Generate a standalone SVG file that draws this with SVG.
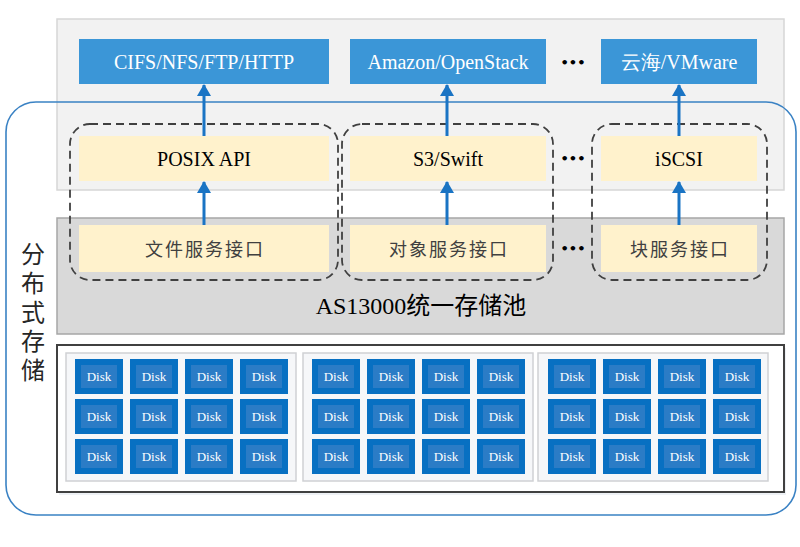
<svg xmlns="http://www.w3.org/2000/svg" width="800" height="547" viewBox="0 0 800 547">
<defs>
<style>
.panel{fill:#f2f2f2;stroke:#d6d6d6;stroke-width:1.5}
.band{fill:#d9d9d9;stroke:#a6a6a6;stroke-width:1.5}
.proto{fill:#3b96d7}
.api{fill:#fff2cc}
.dash{fill:none;stroke:#404040;stroke-width:1.8;stroke-dasharray:8,5}
.outer{fill:none;stroke:#3a82c4;stroke-width:1.6}
.wt{font-family:"Liberation Serif",serif;font-size:20px;fill:#ffffff;text-anchor:middle}
.bt{font-family:"Liberation Serif",serif;font-size:20px;fill:#000000;text-anchor:middle}
.ct{font-family:"Noto Sans CJK SC",sans-serif;font-size:18px;fill:#404040;text-anchor:middle;letter-spacing:2px}
.dots{font-family:"DejaVu Sans",sans-serif;font-size:13px;fill:#000;text-anchor:middle;font-weight:bold}
.arrow{stroke:#1a74c4;stroke-width:3;fill:none}
.disk{fill:#0870c2}
.diskin{fill:#2b7cc6}
.dt{font-family:"Liberation Serif",serif;font-size:13px;fill:#ffffff;text-anchor:middle}
.grp{fill:#f6f7f9;stroke:#cfd1d4;stroke-width:1.5}
.vt{font-family:"Noto Sans CJK SC",sans-serif;font-size:24px;fill:#262626;writing-mode:vertical-rl;letter-spacing:5px}
</style>
<marker id="ah" markerWidth="14" markerHeight="14" viewBox="0 0 12 14" refX="11" refY="7" orient="auto" markerUnits="userSpaceOnUse">
<path d="M0,0 L12,7 L0,14 z" fill="#1a74c4"/>
</marker>
<g id="disk">
<rect class="disk" x="0" y="0" width="48" height="35"/>
<rect class="diskin" x="6" y="6" width="36" height="23"/>
<text class="dt" x="24" y="22">Disk</text>
</g>
<g id="row4">
<use href="#disk" x="0" y="0"/>
<use href="#disk" x="55" y="0"/>
<use href="#disk" x="110" y="0"/>
<use href="#disk" x="165" y="0"/>
</g>
<g id="grid">
<use href="#row4" x="0" y="0"/>
<use href="#row4" x="0" y="40"/>
<use href="#row4" x="0" y="80"/>
</g>
</defs>
<rect width="800" height="547" fill="#ffffff"/>

<g id="access-panel"><rect class="panel" x="57" y="19" width="727" height="171"/></g>
<g id="pool-band"><rect class="band" x="57" y="218" width="727" height="116"/>
<text x="421" y="314" font-family="'Liberation Serif','Noto Sans CJK SC',serif" font-size="24" fill="#000" text-anchor="middle">AS13000统一存储池</text></g>

<g id="distributed-storage">
<rect class="outer" x="6" y="102" width="790" height="413" rx="30"/>
<text class="vt" x="33" y="242">分布式存储</text>
</g>

<g id="proto-cifs"><rect class="proto" x="79" y="39" width="250" height="45"/><text class="wt" x="204" y="69">CIFS/NFS/FTP/HTTP</text></g>
<g id="proto-amazon"><rect class="proto" x="350" y="39" width="196" height="45"/><text class="wt" x="448" y="69">Amazon/OpenStack</text></g>
<g id="proto-cloud"><rect class="proto" x="601" y="39" width="156" height="45"/><text class="wt" x="679" y="69" font-family="'Liberation Serif','Noto Sans CJK SC',serif">云海/VMware</text></g>
<text class="dots" x="573" y="67">•••</text>

<g id="file-group"><rect class="dash" x="70" y="124" width="268" height="156" rx="20"/></g>
<g id="object-group"><rect class="dash" x="342" y="124" width="211" height="156" rx="20"/></g>
<g id="block-group"><rect class="dash" x="592" y="124" width="175" height="156" rx="20"/></g>

<g id="api-posix"><rect class="api" x="79" y="136" width="250" height="45"/><text class="bt" x="204" y="166">POSIX API</text></g>
<g id="api-s3"><rect class="api" x="350" y="136" width="196" height="45"/><text class="bt" x="448" y="166">S3/Swift</text></g>
<g id="api-iscsi"><rect class="api" x="601" y="136" width="156" height="45"/><text class="bt" x="679" y="166">iSCSI</text></g>
<text class="dots" x="573" y="163">•••</text>

<g id="svc-file"><rect class="api" x="79" y="225" width="250" height="47"/><text class="ct" x="205" y="256">文件服务接口</text></g>
<g id="svc-object"><rect class="api" x="350" y="225" width="196" height="47"/><text class="ct" x="449" y="256">对象服务接口</text></g>
<g id="svc-block"><rect class="api" x="601" y="225" width="156" height="47"/><text class="ct" x="680" y="256">块服务接口</text></g>
<text class="dots" x="573" y="253">•••</text>

<g id="connectors">
<line class="arrow" x1="204" y1="136" x2="204" y2="85" marker-end="url(#ah)"/>
<line class="arrow" x1="447" y1="136" x2="447" y2="85" marker-end="url(#ah)"/>
<line class="arrow" x1="679" y1="136" x2="679" y2="85" marker-end="url(#ah)"/>
<line class="arrow" x1="204" y1="225" x2="204" y2="182" marker-end="url(#ah)"/>
<line class="arrow" x1="447" y1="225" x2="447" y2="182" marker-end="url(#ah)"/>
<line class="arrow" x1="679" y1="225" x2="679" y2="182" marker-end="url(#ah)"/>
</g>

<g id="disk-array">
<rect x="59" y="348" width="727" height="147" fill="#eef1f5"/>
<rect x="57" y="345" width="727" height="147" fill="#ffffff" stroke="#404040" stroke-width="2"/>
<rect class="grp" x="66" y="353" width="230" height="128"/>
<rect class="grp" x="303" y="353" width="230" height="128"/>
<rect class="grp" x="538" y="353" width="230" height="128"/>
<use href="#grid" x="75" y="359"/>
<use href="#grid" x="312" y="359"/>
<use href="#grid" x="548" y="359"/>
</g>
</svg>
